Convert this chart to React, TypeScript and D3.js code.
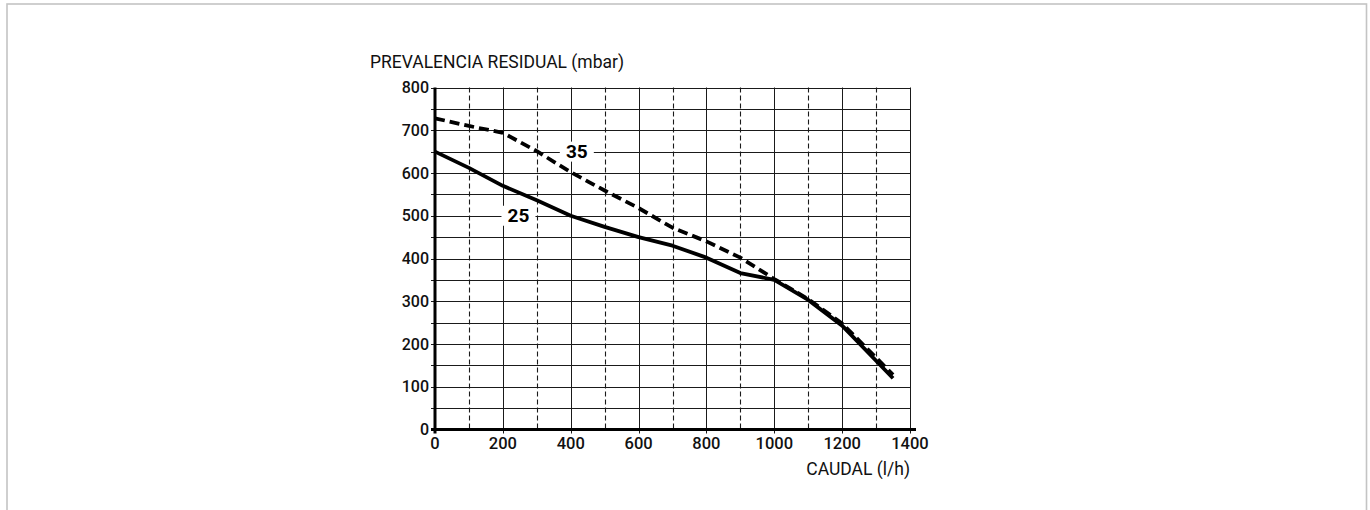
import React from "react";
import * as d3 from "d3";

const flow = [0, 100, 200, 300, 400, 500, 600, 700, 800, 900, 1000, 1100, 1200, 1350];
const pressure25 = [650, 612, 570, 536, 500, 474, 450, 430, 402, 366, 350, 303, 243, 120];
const pressure35 = [728, 710, 694, 651, 602, 559, 518, 472, 440, 402, 352, 305, 248, 128];
const xTicks = [0, 200, 400, 600, 800, 1000, 1200, 1400];
const yTicks = [0, 100, 200, 300, 400, 500, 600, 700, 800];
const seriesLabels = [
  { text: "35", x: 418, y: 650 },
  { text: "25", x: 246, y: 500 },
];
const yTitle = "PREVALENCIA RESIDUAL (mbar)";
const xTitle = "CAUDAL (l/h)";

const W = 1370;
const H = 510;

export default function App() {
  const x = d3.scaleLinear().domain([0, 1400]).range([435, 910]);
  const y = d3.scaleLinear().domain([0, 800]).range([429.5, 87.5]);

  const vLines = d3.range(100, 1401, 100);
  const hLines = d3.range(50, 801, 50);

  const line = d3
    .line<number>()
    .x((_, i) => x(flow[i]))
    .y((d) => y(d));

  const font = "Roboto, 'Noto Sans', sans-serif";

  return (
    <svg
      width={W}
      height={H}
      style={{ position: "absolute", left: 0, top: 0, background: "#fff" }}
      fontFamily={font}
    >
      <rect x={7} y={4} width={1359.5} height={530} fill="#fff" stroke="#c4c4c4" strokeWidth={1.6} />

      {/* horizontal grid */}
      {hLines.map((v) => (
        <line
          key={"h" + v}
          x1={x(0) - 4}
          x2={x(1400)}
          y1={Math.round(y(v)) + 0.5}
          y2={Math.round(y(v)) + 0.5}
          stroke="#1a1a1a"
          strokeWidth={1}
        />
      ))}

      {/* vertical grid */}
      {vLines.map((v) => {
        const dashed = v % 200 !== 0;
        const px = Math.round(x(v)) + 0.5;
        return (
          <line
            key={"v" + v}
            x1={px}
            x2={px}
            y1={y(800)}
            y2={y(0) + (dashed ? 0 : 4)}
            stroke="#1a1a1a"
            strokeWidth={dashed ? 1.1 : 1}
            strokeDasharray={dashed ? "5,3" : undefined}
          />
        );
      })}

      {/* axes */}
      <line x1={x(0)} x2={x(0)} y1={y(800)} y2={y(0) + 4} stroke="#000" strokeWidth={3} />
      <line x1={x(0) - 4} x2={x(1400) + 6} y1={y(0)} y2={y(0)} stroke="#000" strokeWidth={3} />

      {/* curves */}
      <path
        d={line(pressure35) || ""}
        fill="none"
        stroke="#000"
        strokeWidth={3.8}
        strokeDasharray="10,5"
        strokeLinejoin="round"
      />
      <path
        d={line(pressure25) || ""}
        fill="none"
        stroke="#000"
        strokeWidth={3.8}
        strokeLinejoin="round"
      />

      {/* series labels */}
      {seriesLabels.map((l) => (
        <g key={l.text}>
          <rect x={x(l.x) - 17} y={y(l.y) - 10} width={34} height={20} fill="#fff" />
          <text
            x={x(l.x)}
            y={y(l.y)}
            textAnchor="middle"
            dominantBaseline="central"
            fontSize={19}
            fontWeight={700}
            fill="#000"
          >
            {l.text}
          </text>
        </g>
      ))}

      {/* y tick labels */}
      {yTicks.map((v) => (
        <text
          key={"yt" + v}
          x={x(0) - 6}
          y={y(v) + 5.5}
          textAnchor="end"
          fontSize={16}
          fontWeight={500}
          fill="#111"
        >
          {v}
        </text>
      ))}

      {/* x tick labels */}
      {xTicks.map((v) => (
        <text
          key={"xt" + v}
          x={x(v)}
          y={y(0) + 19}
          textAnchor="middle"
          fontSize={16.5}
          fontWeight={500}
          fill="#111"
        >
          {v}
        </text>
      ))}

      <text x={370} y={68} fontSize={17.5} fill="#111">
        {yTitle}
      </text>
      <text x={x(1400)} y={475} textAnchor="end" fontSize={17.5} fill="#111">
        {xTitle}
      </text>
    </svg>
  );
}
